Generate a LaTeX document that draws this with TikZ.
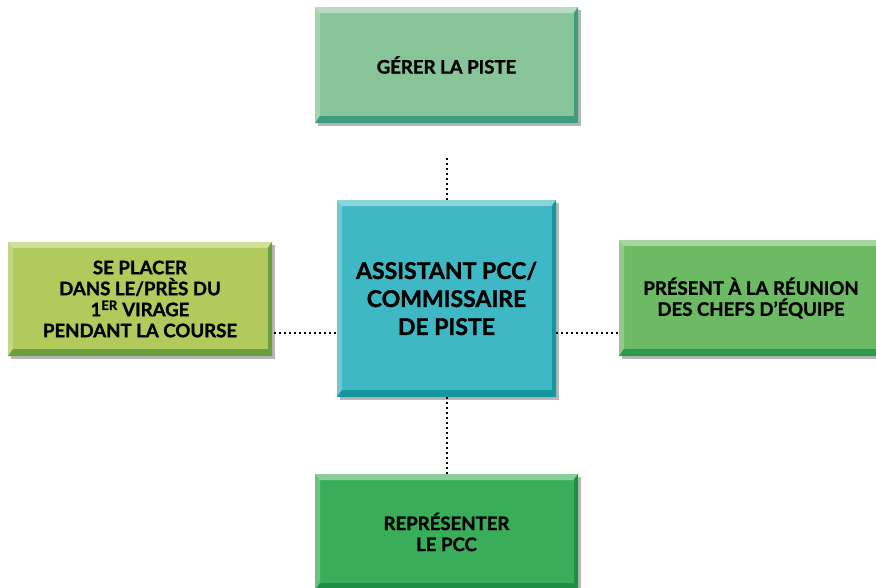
\documentclass[tikz,border=0pt]{standalone}
\usepackage{fontspec}
\setmainfont{Lato}[BoldFeatures={FakeBold=1.3}]
\usetikzlibrary{calc,shadows}

\definecolor{gererface}{HTML}{87C598}
\definecolor{gererdark}{HTML}{3D9D7E}
\definecolor{centreface}{HTML}{3DB8C4}
\definecolor{centredark}{HTML}{16979F}
\definecolor{placerface}{HTML}{B0CB5B}
\definecolor{placerdark}{HTML}{6B9E3E}
\definecolor{reunionface}{HTML}{6CBA63}
\definecolor{reuniondark}{HTML}{2E9A4F}
\definecolor{pccface}{HTML}{3AAD5B}
\definecolor{pccdark}{HTML}{1E8F44}

\tikzset{
	card/.style 2 args={rectangle, fill=#1, align=center, inner sep=0pt,
		font=\bfseries\fontsize{18.6}{21}\selectfont,
		drop shadow={shadow xshift=3pt, shadow yshift=-3pt, fill=black!40, opacity=.7},
		path picture={
			\coordinate (nw) at (path picture bounding box.north west);
			\coordinate (se) at (path picture bounding box.south east);
			% light top and left edges, dark bottom and right edges
			\fill[white,opacity=.4] (nw) -- (nw -| se) -- ++(-5pt,-6pt) -- ($(nw)+(5pt,-6pt)$) -- cycle;
			\fill[white,opacity=.25] (nw) -- ($(nw)+(5pt,-6pt)$) -- ($(nw |- se)+(5pt,7pt)$) -- (nw |- se) -- cycle;
			\fill[#2] (se) -- (se |- nw) -- ++(-4pt,-6pt) -- ($(se)+(-4pt,7pt)$) -- cycle;
			\fill[#2] (nw |- se) -- (se) -- ++(-4pt,7pt) -- ($(nw |- se)+(5pt,7pt)$) -- cycle;
		}},
	link/.style={line width=2pt, dash pattern=on 2pt off 3pt}
}

\begin{document}
\begin{tikzpicture}[x=1pt,y=-1pt]
	\useasboundingbox (0,0) rectangle (876,587);
	\node (gerer) at (446.5,65) [card={gererface}{gererdark}, minimum width=263pt, minimum height=116pt] {GÉRER LA PISTE};
	\node (centre) at (446.5,298.5) [card={centreface}{centredark}, minimum width=219pt, minimum height=197pt,
		font=\bfseries\fontsize{23}{28}\selectfont] {ASSISTANT PCC/\\COMMISSAIRE\\DE PISTE};
	\node (placer) at (140,299) [card={placerface}{placerdark}, minimum width=264pt, minimum height=114pt]
		{SE PLACER\\DANS LE/PRÈS DU\\1\textsuperscript{ER} VIRAGE\\PENDANT LA COURSE};
	\node (reunion) at (751,298) [card={reunionface}{reuniondark}, minimum width=264pt, minimum height=116pt]
		{PRÉSENT À LA RÉUNION\\DES CHEFS D’ÉQUIPE};
	\node (pcc) at (446.5,532) [card={pccface}{pccdark}, minimum width=263pt, minimum height=116pt]
		{REPRÉSENTER\\LE PCC};
	\coordinate (spoke) at (446.5,333);
	\draw[link, shorten <=35pt] (gerer) -- (centre);
	\draw[link] (centre) -- (pcc);
	\draw[link, shorten <=2pt] (placer.east |- spoke) -- (centre.west |- spoke);
	\draw[link] (centre.east |- spoke) -- (reunion.west |- spoke);
\end{tikzpicture}
\end{document}
